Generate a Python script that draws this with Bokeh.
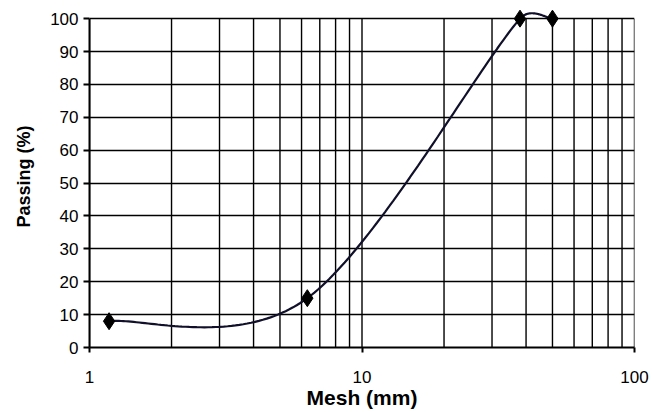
import numpy as np
from bokeh.plotting import figure
from bokeh.models import FixedTicker, Range1d, ColumnDataSource, CustomJSTickFormatter
from bokeh.embed import file_html
from bokeh.resources import INLINE

# data
mesh_mm = [1.18, 6.3, 38.0, 50.0]
passing = [8, 15, 100, 100]
x_ticks = [1, 10, 100]
x_grid = [1, 2, 3, 4, 5, 6, 7, 8, 9, 10, 20, 30, 40, 50, 60, 70, 80, 90, 100]
y_ticks = [0, 10, 20, 30, 40, 50, 60, 70, 80, 90, 100]

W, H = 652, 412
BL, BR, BT, BB = 89, 18, 5, 65
Y_MAX = 104
sx = (W - BL - BR) / 2.0            # pixels per decade
sy = (H - BT - BB) / float(Y_MAX)   # pixels per percent

# Excel-style smoothed line: Bezier with tension 1/6, control arms capped at half a segment (screen space)
u = np.log10(np.array(mesh_mm, dtype=float)) * sx
v = np.array(passing, dtype=float) * sy
P = np.column_stack([u, v])
n = len(P)
curve = []
for i in range(n - 1):
    p0 = P[i - 1] if i > 0 else P[i]
    p1 = P[i]
    p2 = P[i + 1]
    p3 = P[i + 2] if i + 2 < n else P[i + 1]
    d12 = np.linalg.norm(p2 - p1)
    d02 = np.linalg.norm(p2 - p0)
    d13 = np.linalg.norm(p3 - p1)
    f0 = 1 / 6.0 if d02 / 6.0 < d12 / 2.0 else (d12 / 2.0) / d02
    f1 = 1 / 6.0 if d13 / 6.0 < d12 / 2.0 else (d12 / 2.0) / d13
    c1 = p1 + (p2 - p0) * f0
    c2 = p2 - (p3 - p1) * f1
    t = np.linspace(0, 1, 60)[:, None]
    seg = ((1 - t) ** 3) * p1 + 3 * ((1 - t) ** 2) * t * c1 + 3 * (1 - t) * t ** 2 * c2 + t ** 3 * p2
    curve.append(seg if i == 0 else seg[1:])
curve = np.vstack(curve)
cx = 10 ** (curve[:, 0] / sx)
cy = curve[:, 1] / sy

p = figure(width=W, height=H, x_axis_type="log", output_backend="svg",
           toolbar_location=None, x_range=Range1d(1, 100), y_range=Range1d(0, Y_MAX),
           min_border_left=BL, min_border_right=BR, min_border_top=BT, min_border_bottom=BB)
p.outline_line_color = None
p.background_fill_color = "white"
p.border_fill_color = "white"

# horizontal grid
p.ygrid.ticker = FixedTicker(ticks=y_ticks)
p.ygrid.grid_line_color = "black"
p.ygrid.grid_line_width = 1.4
# vertical grid lines only from 0 % to 100 %
p.xgrid.visible = False
gsrc = ColumnDataSource(dict(x=x_grid, y0=[y_ticks[0]] * len(x_grid), y1=[y_ticks[-1]] * len(x_grid)))
p.segment(x0="x", y0="y0", x1="x", y1="y1", source=gsrc, line_color="black", line_width=1.4, level="underlay")

# axes
p.xaxis.ticker = FixedTicker(ticks=x_ticks)
p.xaxis.bounds = (1, 100)
p.xaxis.formatter = CustomJSTickFormatter(code="return tick.toString();")
p.yaxis.ticker = FixedTicker(ticks=y_ticks)
p.yaxis.bounds = (0, 100)
for ax in (p.xaxis[0], p.yaxis[0]):
    ax.axis_line_color = "black"
    ax.axis_line_width = 2
    ax.major_tick_line_color = "black"
    ax.major_tick_line_width = 2
    ax.major_tick_in = 0
    ax.minor_tick_line_color = None
    ax.major_label_text_font = "Liberation Sans"
    ax.major_label_text_font_size = "17px"
    ax.major_label_text_color = "black"
    ax.axis_label_text_font = "Liberation Sans"
    ax.axis_label_text_font_style = "bold"
    ax.axis_label_text_color = "black"

p.xaxis.major_tick_out = 5
p.xaxis.major_label_standoff = 18
p.xaxis.axis_label = "Mesh (mm)"
p.xaxis.axis_label_text_font_size = "21px"
p.xaxis.axis_label_standoff = 0

p.yaxis.major_tick_out = 6
p.yaxis.major_label_standoff = 5
p.yaxis.axis_label = "Passing (%)"
p.yaxis.axis_label_text_font_size = "18px"
p.yaxis.axis_label_standoff = 13

p.line(cx, cy, line_color="#10102a", line_width=2.2)
src = ColumnDataSource(dict(x=mesh_mm, y=passing))
p.scatter("x", "y", source=src, marker="diamond", size=17, fill_color="black", line_color="black")

open("out.html", "w").write(file_html(p, INLINE))
